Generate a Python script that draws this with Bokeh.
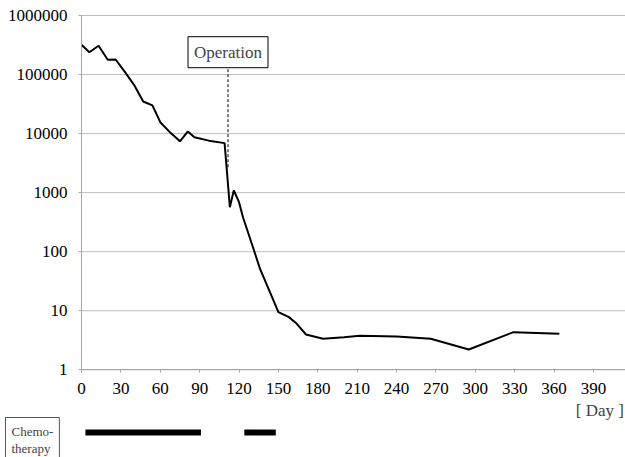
from bokeh.plotting import figure
from bokeh.models import Range1d, FixedTicker, NumeralTickFormatter, Label, ColumnDataSource
from bokeh.embed import file_html
from bokeh.resources import INLINE

# ---- data ----
days = [0, 6, 13, 20, 26, 33, 40, 47, 54, 60, 68, 75, 81, 86, 97, 109, 113, 116, 120, 123,
        131, 136, 150, 158, 164, 171, 184, 200, 212, 240, 266, 295, 329, 364]
values = [319000, 239000, 307000, 178000, 180000, 111000, 67000, 35000, 30000, 15600, 10200,
          7400, 10900, 8700, 7600, 6900, 567, 1087, 689, 384,
          112, 51, 9.5, 7.8, 6.0, 3.96, 3.35, 3.57, 3.77, 3.66, 3.35, 2.21, 4.34, 4.07]
operation_day = 111.6
operation_span = [2700, 138000]
chemo_start = [3, 124]
chemo_end = [91, 148]
x_ticks = [0, 30, 60, 90, 120, 150, 180, 210, 240, 270, 300, 330, 360, 390]
y_ticks = [1, 10, 100, 1000, 10000, 100000, 1000000]
y_labels = ["1", "10", "100", "1000", "10000", "100000", "1000000"]

FONT = "'Liberation Serif', 'Times New Roman', serif"
X_MIN, X_MAX = -61.70, 414.38          # visible day range (full canvas width)
Y_MIN, Y_MAX = 0.03273, 1.795e6        # visible value range (full canvas height)
DAY_LABEL_Y = 0.2086                   # position of "[ Day ]" below the axis
CHEMO_Y = 0.0867                       # row of the chemotherapy bars
CHEMO_BOX_Y = 0.1557

p = figure(width=625, height=457, output_backend="svg", toolbar_location=None,
           y_axis_type="log", x_range=Range1d(X_MIN, X_MAX), y_range=Range1d(Y_MIN, Y_MAX),
           min_border_left=0, min_border_right=0, min_border_top=0, min_border_bottom=0)
p.outline_line_color = None
p.xgrid.grid_line_color = None
p.ygrid.grid_line_color = None

# horizontal grid lines at each decade, from the y axis to the right edge
grid_src = ColumnDataSource(dict(y=y_ticks, x0=[0] * len(y_ticks), x1=[X_MAX] * len(y_ticks)))
p.segment(x0="x0", x1="x1", y0="y", y1="y", source=grid_src, line_color="#bdbdbd", line_width=1)

p.line(days, values, line_color="black", line_width=2)
p.segment(x0=[operation_day], x1=[operation_day], y0=[operation_span[0]], y1=[operation_span[1]],
          line_color="black", line_width=1, line_dash="3 2")

p.add_layout(Label(x=operation_day, y=239000, text="Operation", text_font=FONT,
                   text_font_size="17px", text_align="center", text_baseline="middle",
                   padding=6, background_fill_color="white",
                   border_line_color="black", border_line_width=1))

# axes fixed at day 0 / value 1 inside the full-canvas frame
p.xaxis.fixed_location = 1
p.yaxis.fixed_location = 0
p.xaxis.bounds = (0, X_MAX)
p.yaxis.bounds = (1, 1e6)
p.xaxis.ticker = FixedTicker(ticks=x_ticks)
p.yaxis.ticker = FixedTicker(ticks=y_ticks)
p.yaxis.formatter = NumeralTickFormatter(format="0")
p.yaxis.major_label_overrides = {t: s for t, s in zip(y_ticks, y_labels)}
for ax in (p.xaxis, p.yaxis):
    ax.axis_line_color = "#a6a6a6"
    ax.major_tick_line_color = "#a6a6a6"
    ax.major_tick_out = 3
    ax.major_tick_in = 0
    ax.minor_tick_line_color = None
    ax.major_label_text_font = FONT
    ax.major_label_text_font_size = "17px"
    ax.major_label_text_color = "black"
p.yaxis.major_label_standoff = 11
p.xaxis.major_label_standoff = 10

p.add_layout(Label(x=X_MAX - 1.2, y=DAY_LABEL_Y, text="[ Day ]", text_font=FONT,
                   text_font_size="17px", text_align="right", text_baseline="middle"))

# chemotherapy periods
chemo_src = ColumnDataSource(dict(x0=chemo_start, x1=chemo_end, y=[CHEMO_Y] * len(chemo_start)))
p.segment(x0="x0", x1="x1", y0="y", y1="y", source=chemo_src, line_color="black",
          line_width=6, line_cap="butt")
p.add_layout(Label(x=X_MIN + 3.8, y=CHEMO_BOX_Y, text="Chemo-\ntherapy",
                   text_font=FONT, text_font_size="13px", text_align="left",
                   text_baseline="top", text_line_height=1.15, padding=6,
                   background_fill_color="white", border_line_color="#555555",
                   border_line_width=1))

open("out.html", "w").write(file_html(p, INLINE))
